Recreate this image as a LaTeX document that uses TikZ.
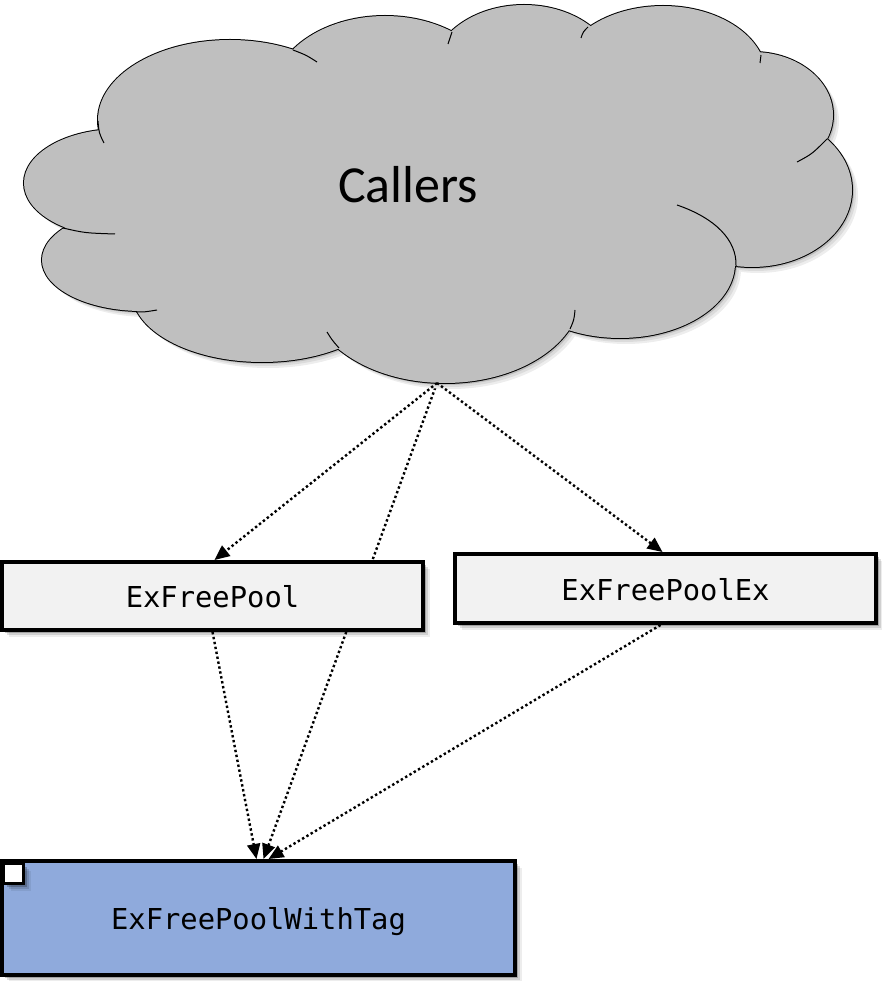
\documentclass[tikz,border=0pt]{standalone}
\usepackage{fontspec}
\newfontfamily\calloutfont{Carlito}
\newfontfamily\codefont{DejaVu Sans Mono}
\usetikzlibrary{arrows.meta,backgrounds,shadows}

\definecolor{cloudgray}{RGB}{191,191,191}
\definecolor{boxgray}{RGB}{242,242,242}
\definecolor{tagblue}{RGB}{143,170,220}

% lobes of the cloud: centre x / centre y / x radius / y radius
\def\cloudlobes{230/120/132/80, 119/183/95/54, 142/260/100/51, 262/292/130/70,
  445/293/136/90, 620/263/115/75, 752/190/100/77, 753/115/80/63,
  663/76/103/70, 524/75/93/70, 385/96/113/80}

\tikzset{
  softshadow/.style={
    drop shadow={fill=black, opacity=0.07, shadow xshift=7pt, shadow yshift=-7pt},
    drop shadow={fill=black, opacity=0.12, shadow xshift=5pt, shadow yshift=-5pt},
    drop shadow={fill=black, opacity=0.22, shadow xshift=3pt, shadow yshift=-3pt}},
  fnbox/.style={draw=black, line width=4pt, fill=boxgray, inner sep=0pt,
    font=\codefont\fontsize{28.8}{34}\selectfont,
    text height=23pt, text depth=0pt, softshadow},
  markbox/.style={draw=black, line width=3pt, fill=white, inner sep=0pt,
    minimum size=20pt, softshadow},
  calls/.style={line width=2.4pt, dash pattern=on 2.4pt off 2.6pt,
    -{Triangle[length=15pt,width=13pt]}},
  hint/.style={line width=1pt, draw=black}
}

\begin{document}
\begin{tikzpicture}[x=1pt,y=-1pt]
\useasboundingbox (0,0) rectangle (882,981);

% cloud: soft shadow
\foreach \d/\c in {6/7,4/14,2/26}{
  \foreach \cx/\cy/\rx/\ry in \cloudlobes {
    \fill[black!\c] (\cx+\d,\cy+\d) ellipse [x radius=\rx, y radius=\ry];
  }
}
% cloud: outline (inner halves are covered by the fill below)
\foreach \cx/\cy/\rx/\ry in \cloudlobes {
  \draw[line width=2pt] (\cx,\cy) ellipse [x radius=\rx, y radius=\ry];
}
\foreach \cx/\cy/\rx/\ry in \cloudlobes {
  \fill[cloudgray] (\cx,\cy) ellipse [x radius=\rx, y radius=\ry];
}
\fill[cloudgray] (440,195) ellipse [x radius=300, y radius=125];

% cloud: inner hint arcs
\draw[hint] (98,121) .. controls (99,133) .. (104,143);
\draw[hint] (63,228) .. controls (85,233) .. (115,234);
\draw[hint] (136,312) .. controls (145,312) .. (157,310);
\draw[hint] (327,332) .. controls (332,340) .. (339,348);
\draw[hint] (575,310) .. controls (574,320) .. (570,329);
\draw[hint] (677,205) .. controls (715,218) and (737,240) .. (736,266);
\draw[hint] (797,162) .. controls (812,154) .. (827,139);
\draw[hint] (760,63) .. controls (760,59) .. (761,55);
\draw[hint] (581,38) .. controls (583,32) .. (588,27);
\draw[hint] (448,44) .. controls (450,38) .. (452,32);
\draw[hint] (317,62) .. controls (306,55) .. (293,50);

\node[font=\calloutfont\fontsize{52}{60}\selectfont, anchor=base, inner sep=0pt]
  (callers) at (408,203) {Callers};
\coordinate (cbot) at (437,383);

% functions
\node[fnbox, minimum width=421pt, minimum height=68pt] (pool) at (212.5,596) {ExFreePool};
\node[fnbox, minimum width=421pt, minimum height=69pt] (poolex) at (665.5,588.5) {ExFreePoolEx};
\node[fnbox, fill=tagblue, minimum width=513pt, minimum height=114pt] (tag) at (258.5,918) {ExFreePoolWithTag};
\node[markbox] (tagmark) at (13.5,873.5) {};

% calls
\begin{scope}[on background layer]
  \draw[calls] (cbot) -- ([xshift=5pt]tag.north);
\end{scope}
\draw[calls] (cbot) -- ([xshift=2pt]pool.north);
\draw[calls] (cbot) -- ([xshift=-3pt]poolex.north);
\draw[calls] (pool.south) -- ([xshift=-2pt]tag.north);
\draw[calls] ([xshift=-5pt]poolex.south) -- ([xshift=10pt]tag.north);
\end{tikzpicture}
\end{document}
